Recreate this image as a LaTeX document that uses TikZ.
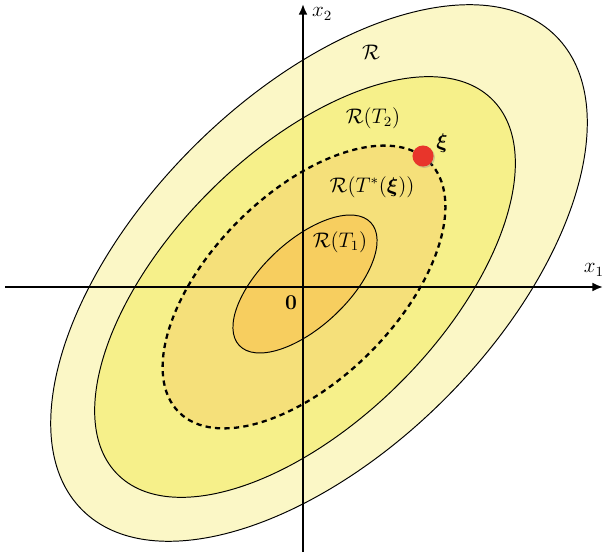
\documentclass[tikz,border=0pt]{standalone}
\usepackage{amsmath,bm}
\usepackage{xcolor}
\definecolor{regR}{HTML}{FBF7C6}
\definecolor{regTtwo}{HTML}{F6F08A}
\definecolor{regTstar}{HTML}{F5E07A}
\definecolor{regTone}{HTML}{F7CE5F}
\definecolor{xired}{HTML}{E8352B}
\usepackage{tikz}
\usetikzlibrary{arrows.meta,shadows}

\begin{document}
\begin{tikzpicture}[x=0.02cm,y=-0.02cm,
  contour/.style={draw=black,line width=0.55pt},
  axis/.style={line width=1.1pt,-{Latex[length=6pt,width=5pt]}},
  lbl/.style={font=\large,inner sep=1pt}]
  \useasboundingbox (0,0) rectangle (607,553);
  % level sets, outermost first
  \draw[contour,fill=regR,rotate around={45:(319,273)}]
    (319,273) ellipse [x radius=335,y radius=178];
  \draw[contour,fill=regTtwo,rotate around={45:(305,287)}]
    (305,287) ellipse [x radius=265,y radius=135];
  \draw[fill=regTstar,line width=1.3pt,dash pattern=on 3pt off 2.4pt,
        rotate around={45:(304,287)}]
    (304,287) ellipse [x radius=177,y radius=93];
  \draw[contour,fill=regTone,rotate around={43:(305,284)}]
    (305,284) ellipse [x radius=90,y radius=43];
  % axes
  \coordinate (x1a) at (5,287);
  \coordinate (x1b) at (603,287);
  \coordinate (x2a) at (303,552);
  \coordinate (x2b) at (303,4);
  \draw[axis] (x1a) -- (x1b);
  \draw[axis] (x2a) -- (x2b);
  \node[lbl,anchor=east] (x1lbl) at (606,270) {$x_1$};
  \node[lbl,anchor=west] (x2lbl) at (310,14) {$x_2$};
  % labels
  \node[lbl] (R) at (371,52) {$\mathcal{R}$};
  \node[lbl] (RT2) at (373,118) {$\mathcal{R}(T_2)$};
  \node[lbl] (RTs) at (372,187) {$\mathcal{R}(T^*(\bm{\xi}))$};
  \node[lbl] (RT1) at (340,242) {$\mathcal{R}(T_1)$};
  \node[lbl] (zero) at (291,303) {$\mathbf{0}$};
  \node[circle,fill=xired,minimum size=12pt,inner sep=0pt,
        drop shadow={opacity=0.35,shadow xshift=0.8pt,shadow yshift=-0.8pt}]
    (xi) at (423,156) {};
  \node[lbl] (xilbl) at (442,143) {$\bm{\xi}$};
\end{tikzpicture}
\end{document}
